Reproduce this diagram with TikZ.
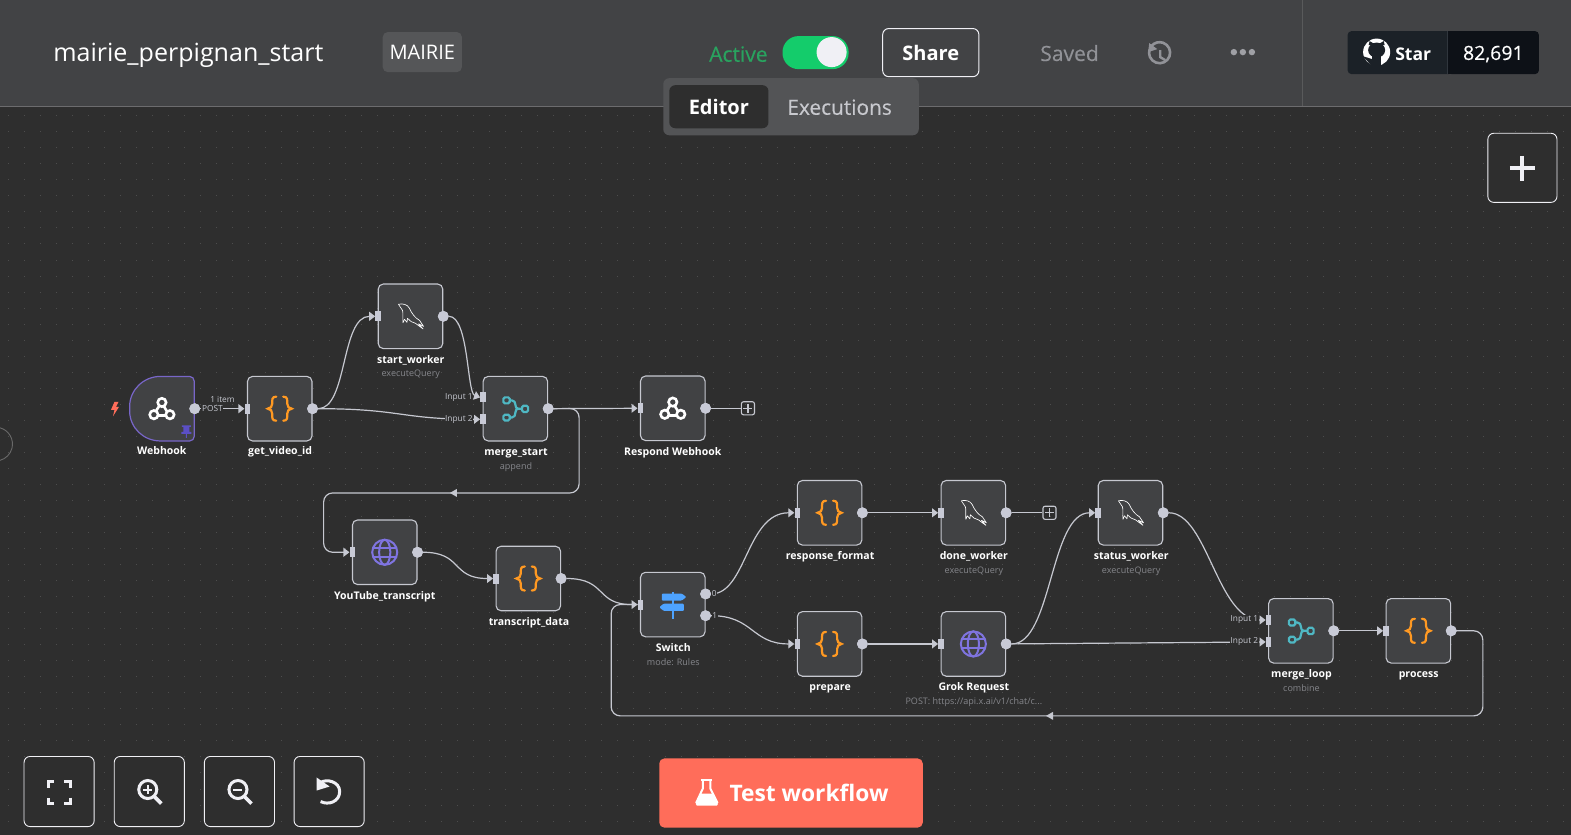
\documentclass[tikz,border=0pt]{standalone}
\usepackage{fontspec}
\setmainfont{Open Sans}
\newfontfamily\semib[FakeBold=0.35]{Open Sans}
\usetikzlibrary{arrows.meta,calc,shapes.geometric}
\definecolor{canvas}{HTML}{2E2E2E}
\definecolor{hdr}{HTML}{424345}
\definecolor{nodefill}{HTML}{414244}
\definecolor{wire}{HTML}{C6C8D0}
\definecolor{port}{HTML}{C8CAD6}
\definecolor{sub}{HTML}{85868B}
\definecolor{orangeic}{HTML}{FF9922}
\definecolor{tealic}{HTML}{4FB8C4}
\definecolor{purpleic}{HTML}{7F74E0}
\definecolor{blueic}{HTML}{4EA3FF}
\definecolor{coral}{HTML}{FF6D5A}
\definecolor{iconw}{HTML}{F0F0F5}
\definecolor{actgreen}{HTML}{29A35F}
\definecolor{toggreen}{HTML}{14CC6B}
\definecolor{saved}{HTML}{919297}
\definecolor{dotsc}{HTML}{9FA0A5}
\definecolor{ghl}{HTML}{1B2127}
\definecolor{ghd}{HTML}{0D1117}
\definecolor{ghb}{HTML}{30363D}
\definecolor{tabbg}{HTML}{535456}
\definecolor{tabtxt}{HTML}{C8C9CE}
\definecolor{whborder}{HTML}{7866C8}
\definecolor{pinc}{HTML}{5B4FC4}
\tikzset{
 x=1pt,y=-1pt,
 nbox/.style={draw=wire,fill=nodefill,line width=1.1pt,rounded corners=5pt,minimum width=64.4pt,minimum height=64.4pt,inner sep=0pt},
 inport/.style={fill=port,inner sep=0pt,minimum width=5.5pt,minimum height=10pt},
 outport/.style={circle,fill=port,inner sep=0pt,minimum size=10.8pt},
 conn/.style={draw=wire,line width=1.2pt,-{Triangle[length=6pt,width=8.8pt,fill=port]}},
 plainconn/.style={draw=wire,line width=1.2pt},
 addbox/.style={draw=wire,line width=1.1pt,rounded corners=2pt,minimum size=13pt,inner sep=0pt},
 title/.style={text=white,font=\fontsize{10.5}{12}\selectfont\bfseries,inner sep=0pt,text height=8pt,text depth=3pt},
 subt/.style={text=sub,font=\fontsize{9}{11}\selectfont,inner sep=0pt,text height=7pt,text depth=2.5pt},
 elabel/.style={text=wire,font=\fontsize{8.3}{10}\selectfont,inner sep=0.6pt},
 uibtn/.style={draw=iconw,line width=0.9pt,rounded corners=6pt,inner sep=0pt},
 brace/.pic={
  \draw[orangeic,line width=2.2pt,line cap=round] (-3.5,-12) .. controls (-8,-12) and (-7.5,-9) .. (-7.5,-5) .. controls (-7.5,-2) and (-9,-.5) .. (-12,0) .. controls (-9,.5) and (-7.5,2) .. (-7.5,5) .. controls (-7.5,9) and (-8,12) .. (-3.5,12);
  \draw[orangeic,line width=2.2pt,line cap=round] (3.5,-12) .. controls (8,-12) and (7.5,-9) .. (7.5,-5) .. controls (7.5,-2) and (9,-.5) .. (12,0) .. controls (9,.5) and (7.5,2) .. (7.5,5) .. controls (7.5,9) and (8,12) .. (3.5,12);
 },
 mergeic/.pic={
  \draw[tealic,line width=2.2pt,rounded corners=1.5pt] (-12,-11.3) rectangle (-5.7,-5.3) (-12,6) rectangle (-5.7,11.7) (6.7,-3) rectangle (12.7,3.3);
  \draw[tealic,line width=2.2pt,line join=round] (-5.7,-8.3) -- (-3.5,-8.3) .. controls (-1,-8.3) and (0,-6) .. (0,-4) .. controls (0,-1.5) and (1,0) .. (3,0) -- (6.7,0);
  \draw[tealic,line width=2.2pt,line join=round] (-5.7,8.8) -- (-3.5,8.8) .. controls (-1,8.8) and (0,6.5) .. (0,4) .. controls (0,1.5) and (1,0) .. (3,0);
 },
 hookic/.pic={
  \begin{scope}[y=1pt,line cap=round,line width=2.6pt,white]
   \draw (0,6.2) circle[radius=4.2];
   \draw (-8,-6) circle[radius=4.2];
   \draw (8,-6) circle[radius=4.2];
   \draw (-2.6,2.8) -- (-5.9,-2.3);
   \draw (-3.8,-7) -- (3.8,-7);
   \draw (1.8,2.6) -- (5,-2.6);
  \end{scope}
 },
 globeic/.pic={
  \draw[purpleic,line width=2pt] (0,0) circle[radius=12.5];
  \draw[purpleic,line width=2pt] (0,0) ellipse[x radius=5.6,y radius=12.5];
  \draw[purpleic,line width=2pt] (-11.5,-4.5) -- (11.5,-4.5) (-11.5,4.5) -- (11.5,4.5);
 },
 dolphin/.pic={
  \draw[white,line width=.65pt,line join=round] (-12,-12) .. controls (-8,-13) and (-3,-12) .. (-1,-8) .. controls (1,-3) and (5,2) .. (9,4) .. controls (10,6) and (12,8) .. (13,10) -- (8,7.5) -- (12.5,12.5) .. controls (10,11) and (8,9) .. (5,7) .. controls (2,6) and (-1,5) .. (-3,2) -- (-3.5,6) -- (-6,3) -- (-7.5,6.5) .. controls (-8,2) and (-7,-3) .. (-8,-6) .. controls (-9,-8) and (-11,-10) .. (-12,-12);
 },
 signic/.pic={
  \fill[blueic] (-1,-13) rectangle (1.6,14);
  \fill[blueic,rounded corners=1pt] (-11,-11) -- (9,-11) -- (13.5,-7.5) -- (9,-4) -- (-11,-4) -- cycle;
  \fill[blueic,rounded corners=1pt] (11,-1) -- (-9,-1) -- (-13.5,2.7) -- (-9,6.4) -- (11,6.4) -- cycle;
 },
}
\begin{document}
\begin{tikzpicture}
\useasboundingbox (0,0) rectangle (1568,833.4);
\fill[canvas] (0,0) rectangle (1568,833.4);
% dotted grid
\foreach \gx in {8,24,...,1568}{\foreach \gy in {115,131,...,830}{\fill[white!15!canvas] (\gx,\gy) rectangle +(1,1);}}
% off-screen node edge
\draw[white!28!canvas,line width=.9pt] (0,427) arc[start angle=-75,end angle=75,radius=16.8];
% header
\fill[hdr] (0,0) rectangle (1568,106);
\draw[white!22!hdr,line width=1pt] (0,106.5) -- (1568,106.5);
\draw[white!12!hdr,line width=1pt] (1299.5,0) -- (1299.5,106);
\node[text=white,font=\fontsize{25}{28}\selectfont,inner sep=0pt,anchor=base west] (wfname) at (53,61.5) {mairie\_perpignan\_start};
\node[fill=white!10!hdr,rounded corners=5pt,minimum width=79pt,minimum height=40pt,inner sep=0pt,text=white,font=\fontsize{20}{24}\selectfont] (tag) at (421.5,52) {\raisebox{-1.5pt}{MAIRIE}};
\node[text=actgreen,font=\fontsize{21}{24}\selectfont\semib,inner sep=0pt] (active) at (737,54) {Active};
\fill[toggreen,rounded corners=16pt] (781,36) rectangle (847,69);
\fill[iconw] (830,52) circle[radius=15];
\node[draw=iconw,line width=1pt,rounded corners=6pt,minimum width=96pt,minimum height=48pt,inner sep=0pt,text=white,font=\fontsize{20}{24}\selectfont\bfseries] (share) at (929,52.5) {Share};
\node[text=saved,font=\fontsize{21}{24}\selectfont\semib,inner sep=0pt] (savedt) at (1067.5,53) {Saved};
% history icon
\draw[saved,line width=2.6pt] (1147.5,49) arc[start angle=200,end angle=-140,radius=10.5];
\fill[saved] (1147,43) -- (1155,49) -- (1146,52) -- cycle;
\draw[saved,line width=2.4pt] (1158,50) -- (1158,57) -- (1163,60);
\fill[dotsc] (1231.5,52) circle[radius=3.2] (1240.5,52) circle[radius=3.2] (1249.5,52) circle[radius=3.2];
% github star
\fill[ghl,rounded corners=4pt] (1345,31) rectangle (1450,74);
\fill[ghd,rounded corners=4pt] (1445,31) rectangle (1536,74);
\fill[ghd] (1445,31) rectangle (1452,74);
\draw[ghb,line width=.8pt] (1445,31) -- (1445,74);
\fill[white] (1374,52) circle[radius=13.5];
\fill[ghl] (1374,50) ellipse[x radius=8.5,y radius=7.5];
\fill[ghl] (1366,45) -- (1367,41) -- (1372,44) -- (1376,44) -- (1381,41) -- (1382,45) -- cycle;
\fill[ghl] (1369.5,55) rectangle (1378.5,65.5);
\fill[ghl] (1360,56) -- (1369.5,59) -- (1369.5,66) -- cycle;
\node[text=white,font=\fontsize{17.5}{24}\selectfont\bfseries,inner sep=0pt] (star) at (1410.5,54) {Star};
\node[text=white,font=\fontsize{19.5}{24}\selectfont\semib,inner sep=0pt] (count) at (1490.5,54) {82,691};
% tabs
\fill[tabbg,rounded corners=6pt] (662,78) rectangle (917,135);
\node[fill=canvas,rounded corners=6pt,minimum width=99pt,minimum height=43pt,inner sep=0pt,text=white,font=\fontsize{20}{24}\selectfont\bfseries] (editor) at (717.5,106.5) {Editor};
\node[text=tabtxt,font=\fontsize{20.8}{24}\selectfont\semib,inner sep=0pt] (exec) at (838,107) {Executions};
% add-node button
\node[uibtn,fill=canvas,minimum width=69pt,minimum height=69pt] (addb) at (1519.5,167.5) {};
\draw[iconw,line width=4pt] (1507,168) -- (1532,168) (1519.5,155.5) -- (1519.5,180.5);
% workflow nodes
\node[nbox,draw=none,fill=none] (wh) at (161.6,407.9) {};
\draw[draw=whborder,fill=nodefill,line width=1.2pt] (189.3,375.7) -- (160,375.7) .. controls (143.4,375.7) and (129.4,389) .. (129.4,405.8) -- (129.4,410.2) .. controls (129.4,427) and (143.4,440.1) .. (160,440.1) -- (189.3,440.1) .. controls (192,440.1) and (193.8,438) .. (193.8,435.6) -- (193.8,380.2) .. controls (193.8,378) and (192,375.7) .. (189.3,375.7) -- cycle;
\node[nbox] (gv) at (279.2,407.9) {};
\node[nbox] (sw) at (409.7,315.7) {};
\node[nbox] (ms) at (514.4,407.9) {};
\node[nbox] (rw) at (671.5,407.5) {};
\node[nbox] (yt) at (384,551.2) {};
\node[nbox] (td) at (527.3,577.4) {};
\node[nbox] (sc) at (671.5,603.4) {};
\node[nbox] (rf) at (828,511.8) {};
\node[nbox] (dw) at (971.5,511.8) {};
\node[nbox] (st) at (1128.3,511.8) {};
\node[nbox] (pr) at (828,642.7) {};
\node[nbox] (gr) at (971.5,642.7) {};
\node[nbox] (ml) at (1298.4,629.6) {};
\node[nbox] (pc) at (1415.7,629.6) {};
% icons
\pic at (wh) {hookic};
\pic at (rw) {hookic};
\pic at (gv) {brace};
\pic at (td) {brace};
\pic at (rf) {brace};
\pic at (pr) {brace};
\pic at (pc) {brace};
\pic at (sw) {dolphin};
\pic at (dw) {dolphin};
\pic at (st) {dolphin};
\pic at (ms) {mergeic};
\pic at (ml) {mergeic};
\pic at (yt) {globeic};
\pic at (gr) {globeic};
\pic at (sc) {signic};
\fill[coral] (114.3,401) -- (118.3,401) -- (115.8,406) -- (118.8,406) -- (112.8,415.5) -- (114.3,409) -- (110.8,409) -- cycle;
\fill[pinc] (181.5,424.5) rectangle (190.5,426) (183,426) rectangle (189,431) (181,431) rectangle (191,433) (185.5,433) rectangle (186.5,437);
% titles
\node[title] (wht) at (161.5,451.5) {Webhook};
\node[title] (gvt) at (279.5,451.5) {get\_video\_id};
\node[title] (swt) at (410,360) {start\_worker};
\node[subt] (sws) at (410,374) {executeQuery};
\node[title] (mst) at (515,452) {merge\_start};
\node[subt] (mss) at (515,466) {append};
\node[title] (rwt) at (671.5,452) {Respond Webhook};
\node[title] (ytt) at (384,595.5) {YouTube\_transcript};
\node[title] (tdt) at (528,621.5) {transcript\_data};
\node[title] (sct) at (672,648) {Switch};
\node[subt] (scs) at (672,662) {mode: Rules};
\node[title] (rft) at (828.5,556) {response\_format};
\node[title] (dwt) at (972,556) {done\_worker};
\node[subt] (dws) at (972,570) {executeQuery};
\node[title] (stt) at (1129,556) {status\_worker};
\node[subt] (sts) at (1129,570) {executeQuery};
\node[title] (prt) at (828.5,687) {prepare};
\node[title] (grt) at (972,687) {Grok Request};
\node[subt] (grs) at (972,701) {POST: https://api.x.ai/v1/chat/c...};
\node[title] (mlt) at (1299,674) {merge\_loop};
\node[subt] (mls) at (1299,688) {combine};
\node[title] (pct) at (1416,674) {process};
% ports
\node[inport] (gvi) at ([xshift=.5pt]gv.west) {};
\node[inport] (swi) at ([xshift=.5pt]sw.west) {};
\node[inport] (msi1) at ([xshift=.5pt,yshift=11.2pt]ms.west) {};
\node[inport] (msi2) at ([xshift=.5pt,yshift=-10.6pt]ms.west) {};
\node[inport] (rwi) at ([xshift=.5pt]rw.west) {};
\node[inport] (yti) at ([xshift=.5pt]yt.west) {};
\node[inport] (tdi) at ([xshift=.5pt]td.west) {};
\node[inport] (sci) at ([xshift=.5pt]sc.west) {};
\node[inport] (rfi) at ([xshift=.5pt]rf.west) {};
\node[inport] (dwi) at ([xshift=.5pt]dw.west) {};
\node[inport] (sti) at ([xshift=.5pt]st.west) {};
\node[inport] (pri) at ([xshift=.5pt]pr.west) {};
\node[inport] (gri) at ([xshift=.5pt]gr.west) {};
\node[inport] (mli1) at ([xshift=.5pt,yshift=10.8pt]ml.west) {};
\node[inport] (mli2) at ([xshift=.5pt,yshift=-11.1pt]ml.west) {};
\node[inport] (pci) at ([xshift=.5pt]pc.west) {};
\node[outport] (who) at (wh.east) {};
\node[outport] (gvo) at (gv.east) {};
\node[outport] (swo) at (sw.east) {};
\node[outport] (mso) at (ms.east) {};
\node[outport] (rwo) at (rw.east) {};
\node[outport] (yto) at (yt.east) {};
\node[outport] (tdo) at (td.east) {};
\node[outport] (sco0) at ([yshift=10.6pt]sc.east) {};
\node[outport] (sco1) at ([yshift=-11.1pt]sc.east) {};
\node[outport] (rfo) at (rf.east) {};
\node[outport] (dwo) at (dw.east) {};
\node[outport] (sto) at (st.east) {};
\node[outport] (pro) at (pr.east) {};
\node[outport] (gro) at (gr.east) {};
\node[outport] (mlo) at (ml.east) {};
\node[outport] (pco) at (pc.east) {};
\node[addbox] (rwadd) at (746.5,407.5) {};
\node[addbox] (dwadd) at (1047.5,511.8) {};
\draw[wire,line width=1.2pt] (742,407.5) -- (751,407.5) (746.5,403) -- (746.5,412);
\draw[wire,line width=1.2pt] (1043,511.8) -- (1052,511.8) (1047.5,507.3) -- (1047.5,516.3);
% connectors
\draw[conn] (who) -- (gvi.west);
\node[elabel,fill=canvas] (postl) at (212,407.7) {POST};
\node[elabel] (iteml) at (222,399) {1 item};
\draw[conn] (gvo) .. controls (347,407.9) and (340,315.7) .. (swi.west);
\draw[conn] (gvo) .. controls (400,407.9) and (400,418.5) .. (msi2.west);
\node[elabel,fill=canvas] (in2l) at (458,418.3) {Input 2};
\draw[conn] (swo) .. controls (468,315.7) and (466,392) .. (msi1.west);
\node[elabel] (in1l) at (458,397) {Input 1};
\draw[conn] (mso) -- (rwi.west);
\draw[plainconn] (rwo) -- (rwadd);
\draw[conn,rounded corners=9pt] (mso.center) -- (578,407.7) -- (578,492) -- (323,492) -- (323,551.2) -- (yti.west);
\fill[wire] (449,492) -- (456,488) -- (456,496) -- cycle;
\draw[conn] (yto) .. controls (462,551.2) and (450,577.4) .. (tdi.west);
\draw[conn] (tdo) .. controls (606,577.4) and (594,603.4) .. (sci.west);
\draw[conn] (sco0) .. controls (745,592.8) and (745,511.8) .. (rfi.west);
\draw[conn] (sco1) .. controls (752,614.5) and (750,642.7) .. (pri.west);
\node[elabel,fill=canvas] (zero) at (713,592.8) {0};
\node[elabel,fill=canvas] (one) at (713.5,614.5) {1};
\draw[conn] (rfo) -- (dwi.west);
\draw[plainconn] (dwo) -- (dwadd);
\draw[conn] (pro) -- (gri.west);
\draw[conn] (gro) .. controls (1050,642.7) and (1048,511.8) .. (sti.west);
\draw[conn] (gro) -- (mli2.west);
\node[elabel,fill=canvas] (in4l) at (1242,640.7) {Input 2};
\draw[conn] (sto) .. controls (1205,511.8) and (1215,618.8) .. (mli1.west);
\node[elabel,fill=canvas] (in3l) at (1242,618.8) {Input 1};
\draw[conn] (mlo) -- (pci.west);
\draw[plainconn,rounded corners=9pt] (pco.center) -- (1480,629.6) -- (1480,714.5) -- (610,714.5) -- (610,603.4) -- (sci.west);
\fill[wire] (1044,714.5) -- (1051,710.5) -- (1051,718.5) -- cycle;
% repaint ports over lines
\foreach \p in {who,gvo,swo,mso,rwo,yto,tdo,sco0,sco1,rfo,dwo,sto,pro,gro,mlo,pco}{\fill[port] (\p) circle[radius=5.4];}
% bottom controls
\node[uibtn,fill=canvas,minimum width=70pt,minimum height=70pt] (fitb) at (59,790) {};
\node[uibtn,fill=canvas,minimum width=70pt,minimum height=70pt] (zinb) at (149,790) {};
\node[uibtn,fill=canvas,minimum width=70pt,minimum height=70pt] (zoutb) at (239,790) {};
\node[uibtn,fill=canvas,minimum width=70pt,minimum height=70pt] (undob) at (328.5,790) {};
\draw[iconw,line width=3pt] (48,786) -- (48,780) -- (54,780) (64,780) -- (70,780) -- (70,786) (70,796) -- (70,802) -- (64,802) (54,802) -- (48,802) -- (48,796);
\draw[iconw,line width=3pt] (147.5,788) circle[radius=9];
\draw[iconw,line width=3.6pt] (154,795) -- (161,802);
\draw[iconw,line width=2pt] (143,788) -- (152,788) (147.5,783.5) -- (147.5,792.5);
\draw[iconw,line width=3pt] (237.5,788) circle[radius=9];
\draw[iconw,line width=3.6pt] (244,795) -- (251,802);
\draw[iconw,line width=2pt] (233,788) -- (242,788);
\draw[iconw,line width=3pt] (320,781) .. controls (326,777) and (339,780) .. (339,790) .. controls (339,800) and (328,804) .. (320,800);
\fill[iconw] (316,776) -- (316,789) -- (329,785) -- cycle;
\node[fill=coral,rounded corners=5pt,minimum width=263pt,minimum height=69pt,inner sep=0pt] (testb) at (789.5,791.5) {};
\node[text=white,font=\fontsize{22.7}{30}\selectfont\bfseries,inner sep=0pt,anchor=west] (testt) at (728,791.5) {Test workflow};
\draw[white,line width=2pt] (699.5,778.5) -- (711,778.5);
\draw[white,line width=2pt,line join=round] (701.5,778.5) -- (701.5,787) -- (695,801) -- (716,801) -- (709,787) -- (709,778.5);
\fill[white,rounded corners=1.5pt] (698.5,792) -- (712.5,792) -- (717,804) -- (694,804) -- cycle;
\end{tikzpicture}
\end{document}
